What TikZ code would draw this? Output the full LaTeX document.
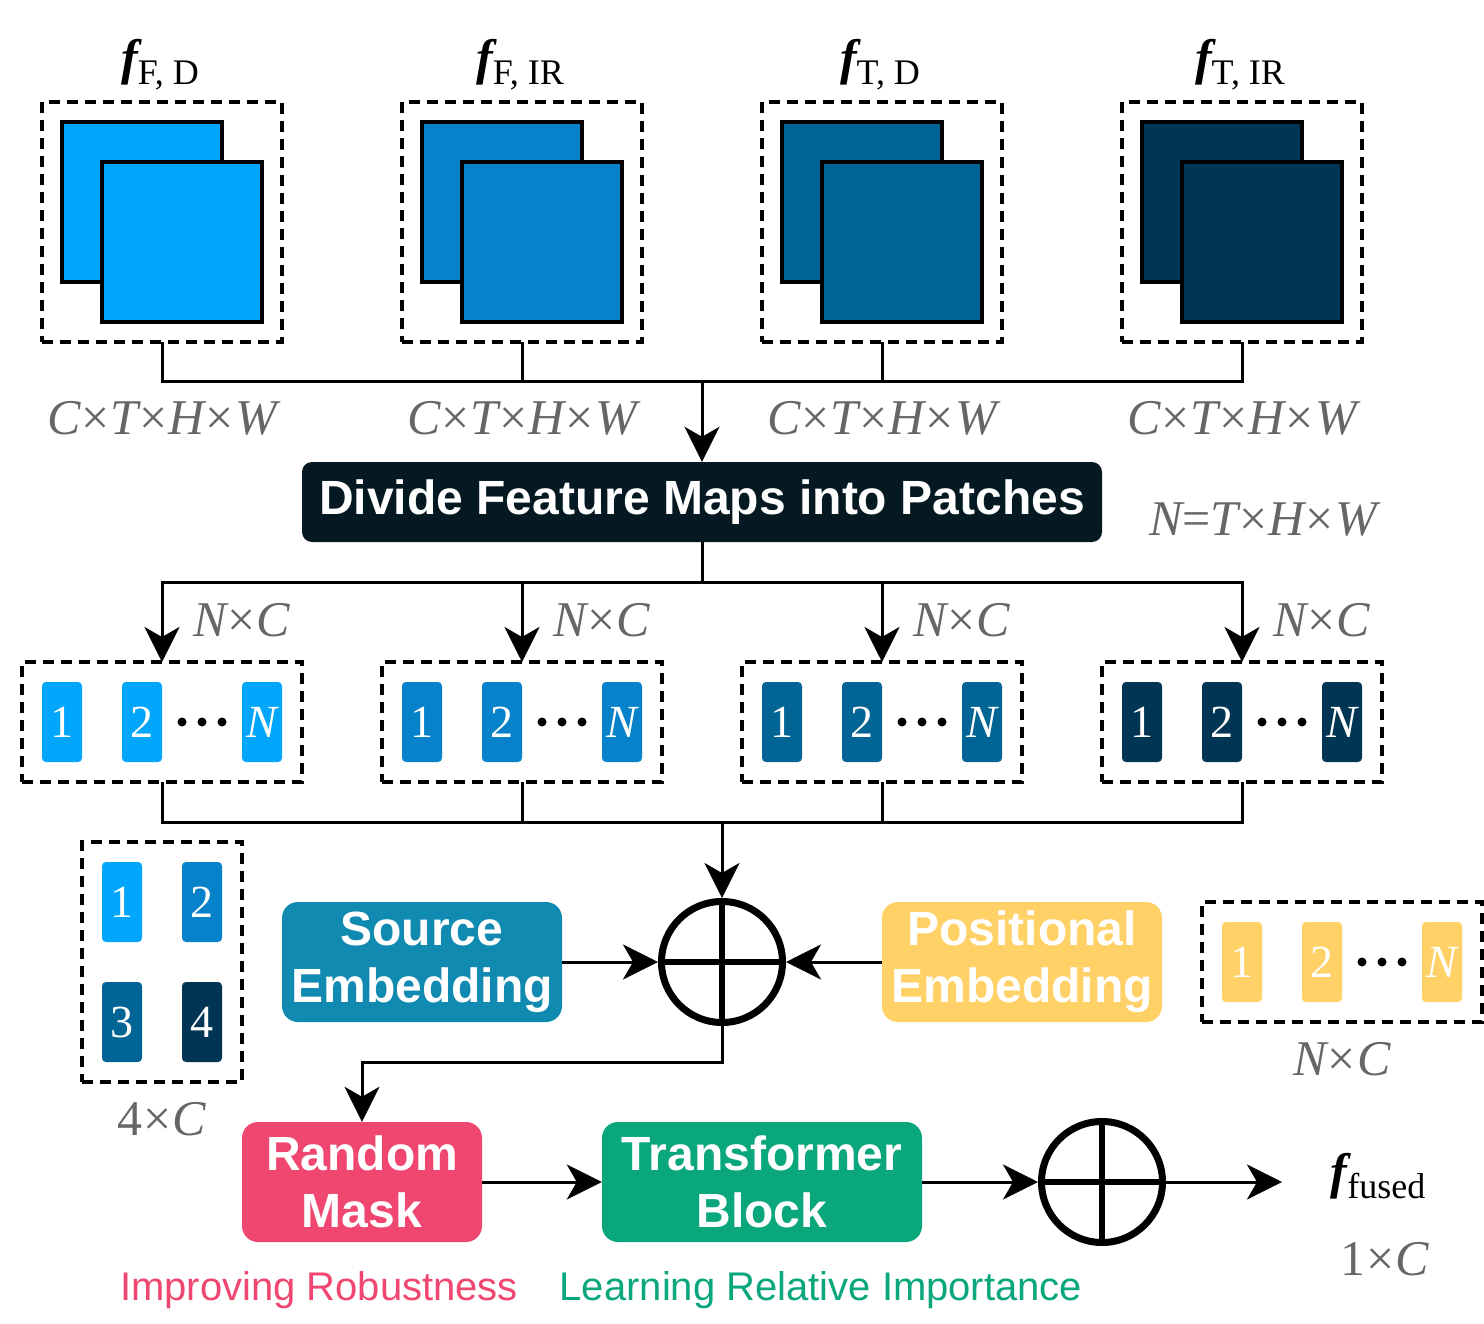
\documentclass[tikz,border=0pt]{standalone}
\usepackage{fontspec}
\setmainfont{Liberation Serif}
\setsansfont{Liberation Sans}
\usetikzlibrary{arrows.meta}

\definecolor{blueA}{HTML}{00A6FB}
\definecolor{blueB}{HTML}{0582CA}
\definecolor{blueC}{HTML}{006494}
\definecolor{blueD}{HTML}{003554}
\definecolor{navy}{HTML}{051923}
\definecolor{srcblue}{HTML}{118AB2}
\definecolor{posyellow}{HTML}{FFD166}
\definecolor{maskpink}{HTML}{EF476F}
\definecolor{transgreen}{HTML}{0AA67C}
\definecolor{dimgray}{HTML}{666666}

\newcommand{\fz}[1]{\fontsize{#1}{#1}\selectfont}
% feature name: bold italic f with an upright subscript
\newcommand{\feat}[1]{{\fz{50}\bfseries\itshape f}\raisebox{-10pt}{\fz{36}#1}}
\newcommand{\ti}{\kern1pt×\kern1pt}

\begin{document}
\begin{tikzpicture}[x=1pt,y=-1pt,
  conn/.style={line width=3pt},
  arr/.style={conn,-{Stealth[length=35pt,width=35pt,inset=10pt]}},
  group/.style={draw,line width=3.5pt,dash pattern=on 11pt off 7pt,inner sep=0pt,outer sep=0pt},
  sheet/.style={draw,line width=3.5pt,minimum size=160pt,inner sep=0pt},
  tok/.style={rounded corners=4pt,minimum width=40pt,minimum height=80pt,inner sep=0pt,
    text=white,font=\fz{46}},
  block/.style={rounded corners=16pt,inner sep=0pt,text=white,align=center,
    font=\sffamily\bfseries\fontsize{48}{57}\selectfont},
  plus/.style={circle,draw,line width=7pt,minimum size=121pt,inner sep=0pt},
  cross/.style={line width=6.5pt},
  dim/.style={text=dimgray,font=\fz{50}\itshape,anchor=base,inner sep=0pt},
  flabel/.style={anchor=base,inner sep=0pt},
  note/.style={anchor=base,inner sep=0pt,font=\sffamily\fz{40}}]

\useasboundingbox (0,0) rectangle (1484,1324);

% ---- feature maps ----
\foreach \i/\x/\c in {1/162/blueA,2/522/blueB,3/882/blueC,4/1242/blueD}{
  \node[group,minimum width=240pt,minimum height=240pt] (g\i) at (\x,222) {};
  \node[sheet,fill=\c] (g\i b) at (\x-20,202) {};
  \node[sheet,fill=\c] (g\i f) at (\x+20,242) {};
  \node[dim] (d\i) at (\x,435) {C\upshape\ti\itshape T\upshape\ti\itshape H\upshape\ti\itshape W};
}
\node[flabel] (l1) at (160,75) {\feat{F, D}};
\node[flabel] (l2) at (520,75) {\feat{F, IR}};
\node[flabel] (l3) at (880,75) {\feat{T, D}};
\node[flabel] (l4) at (1240,75) {\feat{T, IR}};

% ---- patch division ----
\node[block,fill=navy,rounded corners=10pt,minimum width=800pt,minimum height=80pt,
  font=\sffamily\bfseries\fz{48}] (divide) at (702,502) {Divide Feature Maps into Patches};
\node[dim] (nthw) at (1263,535) {N\upshape=\itshape T\upshape\ti\itshape H\upshape\ti\itshape W};

\coordinate (busT) at (702,382);
\draw[conn] (g1.south) |- (busT);
\draw[conn] (g4.south) |- (busT);
\draw[conn] (g2.south) -- (g2.south |- busT);
\draw[conn] (g3.south) -- (g3.south |- busT);
\draw[arr] (busT) -- (divide.north);

% ---- token sequences ----
\foreach \i/\x/\c in {1/162/blueA,2/522/blueB,3/882/blueC,4/1242/blueD}{
  \node[group,minimum width=280pt,minimum height=120pt] (p\i) at (\x,722) {};
  \node[tok,fill=\c] (p\i a) at (\x-100,722) {1};
  \node[tok,fill=\c] (p\i b) at (\x-20,722) {2};
  \node[tok,fill=\c] (p\i n) at (\x+100,722) {\itshape N};
  \foreach \dx in {20,40,60}{\fill (\x+\dx,722) circle (4.5pt);}
  \node[dim,anchor=base west] (nc\i) at (\x+31,636) {N\upshape\ti\itshape C};
}

\coordinate (busM) at (702,582);
\draw[conn] (divide.south) -- (busM);
\draw[arr] (busM) -| (p1.north);
\draw[arr] (busM) -| (p4.north);
\draw[arr] (busM -| p2.north) -- (p2.north);
\draw[arr] (busM -| p3.north) -- (p3.north);

% ---- source tokens ----
\node[group,minimum width=160pt,minimum height=240pt] (s) at (162,962) {};
\node[tok,fill=blueA] (s1) at (122,902) {1};
\node[tok,fill=blueB] (s2) at (202,902) {2};
\node[tok,fill=blueC] (s3) at (122,1022) {3};
\node[tok,fill=blueD] (s4) at (202,1022) {4};
\node[dim] (fc) at (162,1135) {\upshape 4\ti\itshape C};

% ---- embeddings and sum ----
\node[plus] (plus1) at (722,962) {};
\draw[cross] (plus1.north) -- (plus1.south) (plus1.west) -- (plus1.east);

\node[block,fill=srcblue,minimum width=280pt,minimum height=120pt] (src) at (422,962) {Source\\Embedding};
\node[block,fill=posyellow,minimum width=280pt,minimum height=120pt] (pos) at (1022,962) {Positional\\Embedding};

\node[group,minimum width=280pt,minimum height=120pt] (q) at (1342,962) {};
\node[tok,fill=posyellow] (q1) at (1242,962) {1};
\node[tok,fill=posyellow] (q2) at (1322,962) {2};
\node[tok,fill=posyellow] (qn) at (1442,962) {\itshape N};
\foreach \dx in {1362,1382,1402}{\fill (\dx,962) circle (4.5pt);}
\node[dim] (qnc) at (1342,1075) {N\upshape\ti\itshape C};

\coordinate (busB) at (722,822);
\draw[conn] (p1.south) |- (busB);
\draw[conn] (p4.south) |- (busB);
\draw[conn] (p2.south) -- (p2.south |- busB);
\draw[conn] (p3.south) -- (p3.south |- busB);
\draw[arr] (busB) -- (plus1.north);
\draw[arr] (src.east) -- (plus1.west);
\draw[arr] (pos.west) -- (plus1.east);

% ---- masking and transformer ----
\node[block,fill=maskpink,minimum width=240pt,minimum height=120pt] (mask) at (362,1182) {Random\\Mask};
\node[block,fill=transgreen,minimum width=320pt,minimum height=120pt] (trans) at (762,1182) {Transformer\\Block};
\node[plus] (plus2) at (1102,1182) {};
\draw[cross] (plus2.north) -- (plus2.south) (plus2.west) -- (plus2.east);
\coordinate (fout) at (1282,1182);
\coordinate (turn) at (722,1062);

\draw[arr] (plus1.south) |- (mask.north |- turn) -- (mask.north);
\draw[arr] (mask.east) -- (trans.west);
\draw[arr] (trans.east) -- (plus2.west);
\draw[arr] (plus2.east) -- (fout);

\node[flabel] (lf) at (1378,1188) {\feat{fused}};
\node[dim] (oc) at (1385,1275) {\upshape 1\ti\itshape C};

\node[note,text=maskpink] (rob) at (319,1300) {Improving Robustness};
\node[note,text=transgreen] (imp) at (821,1300) {Learning Relative Importance};
\end{tikzpicture}
\end{document}
